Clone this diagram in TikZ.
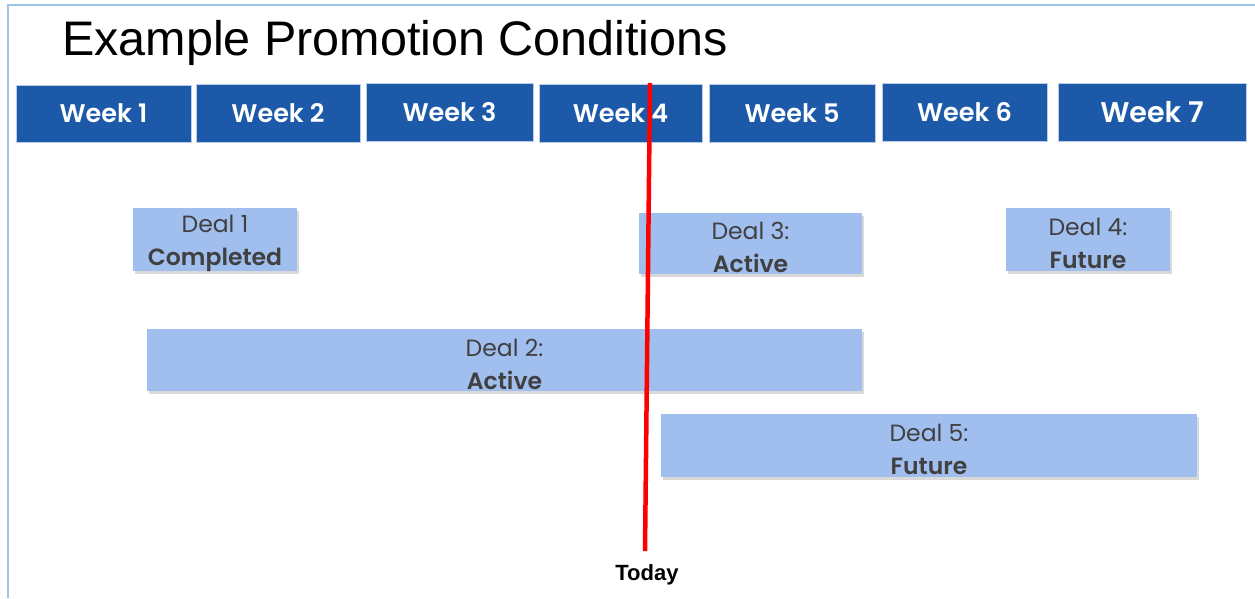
\documentclass[tikz,border=0pt]{standalone}
\usepackage{fontspec}
\setmainfont{Liberation Sans}
\newfontfamily\popfont{Poppins}[BoldFont={Poppins SemiBold}]
\usetikzlibrary{shadows}
\definecolor{framecol}{HTML}{9DC3E6}
\definecolor{weekcol}{HTML}{1C5AA9}
\definecolor{dealcol}{HTML}{A0BEEE}
\definecolor{dealtext}{HTML}{404040}
\definecolor{todayred}{HTML}{FF0000}
\begin{document}
\begin{tikzpicture}[x=1pt,y=-1pt,
  weekbox/.style={rectangle, fill=weekcol, draw=white!70!weekcol, line width=0.8pt, inner sep=0pt,
    text=white, font=\popfont\bfseries\fontsize{25.5}{30}\selectfont},
  dealbox/.style={rectangle, fill=dealcol, inner sep=0pt,
    drop shadow={shadow xshift=1.5pt, shadow yshift=-2.5pt, opacity=0.25, fill=black!60}},
  dealtxt/.style={inner sep=0pt, align=center, text=dealtext, font=\popfont\fontsize{23.5}{33}\selectfont},
  framestyle/.style={draw=framecol, line width=2pt},
  todayline/.style={draw=todayred, line width=4.5pt}]
\useasboundingbox (0,0) rectangle (1255,598);
% frame
\coordinate (fTR) at (1255,5);
\coordinate (fTL) at (8,5);
\coordinate (fBL) at (8,598);
\draw[framestyle] (fTR) -- (fTL) -- (fBL);
% title
\node[anchor=base west, inner sep=0pt, font=\fontsize{48.5}{54}\selectfont] (title) at (62,55) {Example Promotion Conditions};
% weeks
\node[weekbox, minimum width=175pt, minimum height=57pt] (w1) at (103.5,113.5) {Week 1};
\node[weekbox, minimum width=164pt, minimum height=58pt] (w2) at (278,113) {Week 2};
\node[weekbox, minimum width=167pt, minimum height=58pt] (w3) at (449.5,112) {Week 3};
\node[weekbox, minimum width=163pt, minimum height=58pt] (w4) at (620.5,113) {Week 4};
\node[weekbox, minimum width=166pt, minimum height=58pt] (w5) at (792,113) {Week 5};
\node[weekbox, minimum width=165pt, minimum height=58pt] (w6) at (964.5,112) {Week 6};
\node[weekbox, minimum width=188pt, minimum height=58pt, font=\popfont\bfseries\fontsize{28.5}{32}\selectfont] (w7) at (1152,112) {Week 7};
% deals
\node[dealbox, minimum width=164pt, minimum height=63pt] (d1) at (215,239.5) {};
\node[dealbox, minimum width=223pt, minimum height=61pt] (d3) at (750.5,243.5) {};
\node[dealbox, minimum width=164pt, minimum height=63pt] (d4) at (1088,239.5) {};
\node[dealbox, minimum width=715pt, minimum height=62pt] (d2) at (504.5,360) {};
\node[dealbox, minimum width=536pt, minimum height=63pt] (d5) at (929,445.5) {};
\node[dealtxt] (d1t) at ([yshift=-4pt]d1.center) {Deal 1\\\textbf{Completed}};
\node[dealtxt] (d3t) at ([yshift=-4pt]d3.center) {Deal 3:\\\textbf{Active}};
\node[dealtxt] (d4t) at ([yshift=-4pt]d4.center) {Deal 4:\\\textbf{Future}};
\node[dealtxt] (d2t) at ([yshift=-4pt]d2.center) {Deal 2:\\\textbf{Active}};
\node[dealtxt] (d5t) at ([yshift=-4pt]d5.center) {Deal 5:\\\textbf{Future}};
% today line
\coordinate (tTop) at (650,83);
\coordinate (tBot) at (645,551);
\draw[todayline] (tTop) -- (tBot);
\node[font=\bfseries\fontsize{22}{26}\selectfont, inner sep=0pt] (today) at (647,575) {Today};
\end{tikzpicture}
\end{document}
